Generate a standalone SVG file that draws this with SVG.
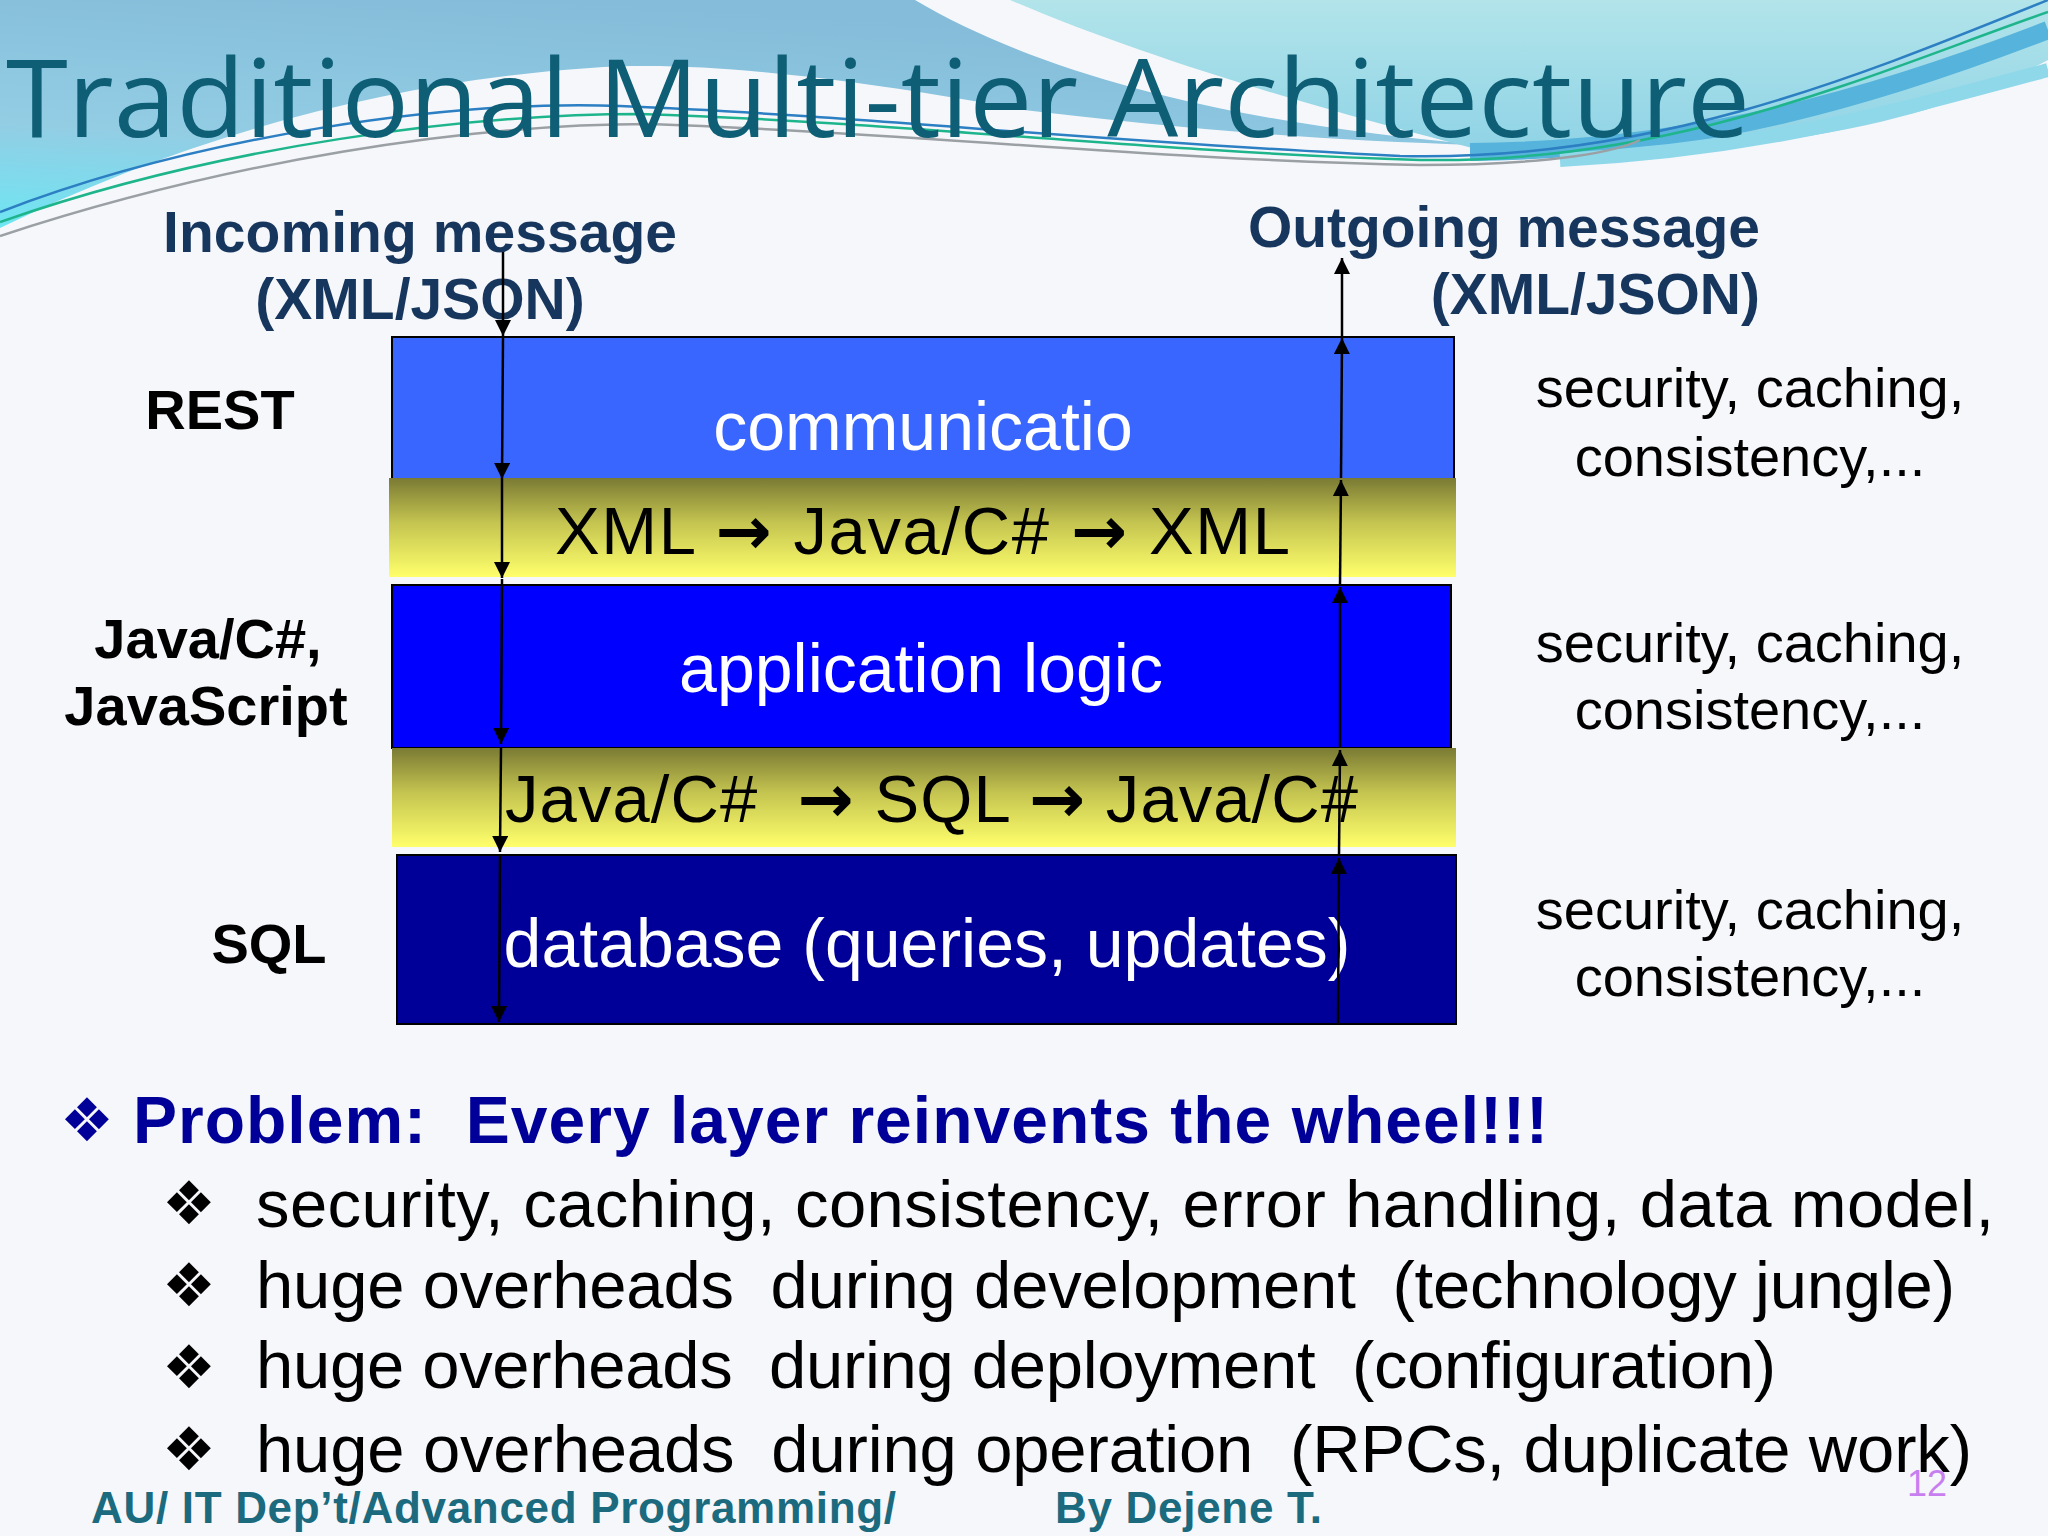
<svg xmlns="http://www.w3.org/2000/svg" width="2048" height="1536" viewBox="0 0 2048 1536">
  <defs>
    <linearGradient id="gBlue" x1="0.4" y1="0" x2="0" y2="1">
      <stop offset="0" stop-color="#84bcd9"/>
      <stop offset="0.6" stop-color="#93cde4"/>
      <stop offset="1" stop-color="#6ee6f3"/>
    </linearGradient>
    <linearGradient id="gCyan" x1="0" y1="0" x2="0" y2="1">
      <stop offset="0" stop-color="#b2e4ea"/>
      <stop offset="1" stop-color="#8fd3e6"/>
    </linearGradient>
    <linearGradient id="gYellow" x1="0" y1="0" x2="0" y2="1">
      <stop offset="0" stop-color="#7a7a34"/>
      <stop offset="0.45" stop-color="#c4c450"/>
      <stop offset="1" stop-color="#ffff6c"/>
    </linearGradient>
    <marker id="ah" viewBox="0 0 10 10" refX="10" refY="5" markerWidth="16" markerHeight="16" markerUnits="userSpaceOnUse" orient="auto">
      <path d="M0,0 L10,5 L0,10 z" fill="#000"/>
    </marker>
    <style>
      .lbl { font-family: "Liberation Sans", Arial, sans-serif; font-weight: bold; }
      .msg { fill: #17365d; font-size: 57px; }
      .tech { fill: #000; font-size: 56px; }
      .side { font-family: "Liberation Sans", Arial, sans-serif; font-size: 56px; fill: #000; text-anchor: middle; }
      .layer { stroke: #000; stroke-width: 2; }
      .ltxt { font-family: "Liberation Sans", Arial, sans-serif; font-size: 68px; fill: #fff; text-anchor: middle; }
      .ytxt { font-family: "Liberation Sans", Arial, sans-serif; font-size: 67px; fill: #000; }
      .arr { font-family: "DejaVu Sans", sans-serif; font-weight: bold; }
      .conn line { stroke: #000; stroke-width: 2.5; marker-end: url(#ah); }
      .body { font-family: "Liberation Sans", Arial, sans-serif; font-size: 67px; fill: #000; }
      .bul { font-family: "DejaVu Sans", sans-serif; font-size: 60px; fill: #000; }
      .foot { font-family: "Liberation Sans", Arial, sans-serif; font-weight: bold; font-size: 44px; fill: #1b6a7d; }
    </style>
  </defs>

  <!-- background -->
  <rect width="2048" height="1536" fill="#f6f7fb"/>
  <g id="decoration">
    <path d="M0,0 H915 C1050,80 1250,125 1480,145 C1300,140 1150,125 1024,110 C850,78 700,60 590,68 C380,82 180,140 0,228 Z" fill="url(#gBlue)"/>
    <path d="M1010,0 H2048 V60 C1900,140 1700,160 1480,150 C1330,112 1150,60 1010,0 Z" fill="url(#gCyan)"/>
    <path d="M1470,152 C1700,150 1880,95 2048,30" fill="none" stroke="#56b3db" stroke-width="18"/>
    <path d="M1560,160 C1760,150 1900,110 2048,70" fill="none" stroke="#8fd8ea" stroke-width="14"/>
    <path d="M0,212 C200,135 450,100 620,106 C850,115 1100,142 1400,156 C1650,162 1850,80 2048,0" fill="none" stroke="#2b7fc2" stroke-width="2.5"/>
    <path d="M0,222 C220,145 470,114 640,114 C900,122 1150,152 1420,160 C1680,164 1880,70 2048,12" fill="none" stroke="#1fb58c" stroke-width="2.5"/>
    <path d="M0,236 C230,160 470,124 650,124 C900,132 1150,160 1420,165 C1560,165 1620,150 1640,140" fill="none" stroke="#9aa0a4" stroke-width="2.5"/>
  </g>

  <text id="title" x="6" y="137" font-family="'Open Sans', 'DejaVu Sans', sans-serif" font-size="108" fill="#0e5f76" textLength="1744" lengthAdjust="spacingAndGlyphs">Traditional Multi-tier Architecture</text>

  <!-- message labels -->
  <g id="incoming" class="lbl msg" text-anchor="middle">
    <text x="420" y="252" textLength="514">Incoming message</text>
    <text x="420" y="319">(XML/JSON)</text>
  </g>
  <g id="outgoing" class="lbl msg" text-anchor="end">
    <text x="1760" y="247" textLength="512">Outgoing message</text>
    <text x="1760" y="314">(XML/JSON)</text>
  </g>

  <!-- technology labels -->
  <g id="tech-labels" class="lbl tech" text-anchor="middle">
    <text x="220" y="429">REST</text>
    <text x="208" y="658">Java/C#,</text>
    <text x="206" y="725">JavaScript</text>
    <text x="269" y="963">SQL</text>
  </g>

  <!-- layers -->
  <g id="layer-communication">
    <rect class="layer" x="392" y="337" width="1062" height="142" fill="#3966ff"/>
    <text class="ltxt" x="923" y="450">communicatio</text>
  </g>
  <g id="band-xml">
    <rect x="389" y="478" width="1067" height="99" fill="url(#gYellow)"/>
    <text class="ytxt" x="555" y="554" textLength="735">XML <tspan class="arr">→</tspan> Java/C# <tspan class="arr">→</tspan> XML</text>
  </g>
  <g id="layer-application">
    <rect class="layer" x="392" y="585" width="1059" height="163" fill="#0000ff"/>
    <text class="ltxt" x="921" y="692">application logic</text>
  </g>
  <g id="band-sql">
    <rect x="392" y="748" width="1064" height="99" fill="url(#gYellow)"/>
    <text class="ytxt" x="505" y="822" textLength="853" xml:space="preserve">Java/C#  <tspan class="arr">→</tspan> SQL <tspan class="arr">→</tspan> Java/C#</text>
  </g>
  <g id="layer-database">
    <rect class="layer" x="397" y="855" width="1059" height="169" fill="#000099"/>
    <text class="ltxt" x="927" y="967">database (queries, updates)</text>
  </g>

  <!-- side notes -->
  <g id="notes-communication" class="side">
    <text x="1750" y="407">security, caching,</text>
    <text x="1750" y="476">consistency,...</text>
  </g>
  <g id="notes-application" class="side">
    <text x="1750" y="662">security, caching,</text>
    <text x="1750" y="729">consistency,...</text>
  </g>
  <g id="notes-database" class="side">
    <text x="1750" y="929">security, caching,</text>
    <text x="1750" y="996">consistency,...</text>
  </g>

  <!-- connectors -->
  <g id="connectors" class="conn">
    <line x1="503" y1="252" x2="503" y2="336"/>
    <line x1="503" y1="337" x2="502" y2="479"/>
    <line x1="502" y1="479" x2="502" y2="578"/>
    <line x1="502" y1="579" x2="501" y2="744"/>
    <line x1="501" y1="748" x2="500" y2="852"/>
    <line x1="500" y1="855" x2="499" y2="1022"/>
    <line x1="1338" y1="1024" x2="1339" y2="858"/>
    <line x1="1339" y1="856" x2="1340" y2="750"/>
    <line x1="1340" y1="748" x2="1340" y2="587"/>
    <line x1="1340" y1="585" x2="1341" y2="480"/>
    <line x1="1341" y1="478" x2="1342" y2="338"/>
    <line x1="1342" y1="336" x2="1342" y2="258"/>
  </g>

  <!-- problem statement -->
  <g id="problem">
    <text class="bul" x="60" y="1141" style="fill:#000099">❖</text>
    <text x="133" y="1143" font-family="'Liberation Sans', Arial, sans-serif" font-weight="bold" font-size="66" fill="#000099" textLength="1415" xml:space="preserve">Problem:  Every layer reinvents the wheel!!!</text>
  </g>
  <g id="bullets">
    <text class="bul" x="162" y="1224">❖</text>
    <text class="body" x="256" y="1227" textLength="1738">security, caching, consistency, error handling, data model,</text>
    <text class="bul" x="162" y="1306">❖</text>
    <text class="body" x="256" y="1308" textLength="1699" xml:space="preserve">huge overheads  during development  (technology jungle)</text>
    <text class="bul" x="162" y="1388">❖</text>
    <text class="body" x="256" y="1388" textLength="1520" xml:space="preserve">huge overheads  during deployment  (configuration)</text>
    <text class="bul" x="162" y="1470">❖</text>
    <text class="body" x="256" y="1472" textLength="1716" xml:space="preserve">huge overheads  during operation  (RPCs, duplicate work)</text>
  </g>

  <!-- footer -->
  <g id="footer">
    <text class="foot" x="91" y="1523" textLength="805">AU/ IT Dep’t/Advanced Programming/</text>
    <text class="foot" x="1055" y="1523" textLength="267">By Dejene T.</text>
    <text x="1907" y="1496" font-family="'Liberation Sans', Arial, sans-serif" font-size="36" fill="#c77ff0">12</text>
  </g>
</svg>
